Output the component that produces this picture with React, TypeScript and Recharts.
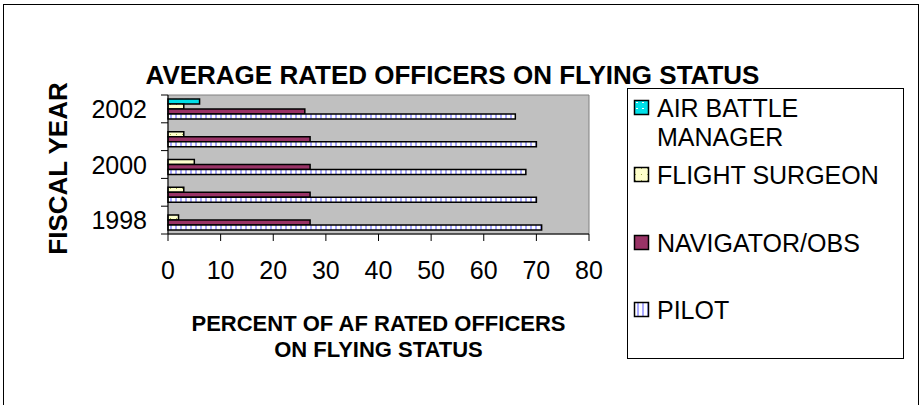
import React from "react";
import {
  BarChart,
  Bar,
  XAxis,
  YAxis,
  Legend,
  ReferenceArea,
  Label,
} from "recharts";

const years = ["1998", "1999", "2000", "2001", "2002"];
const pilot = [71, 70, 68, 70, 66];
const navigator = [27, 27, 27, 27, 26];
const flightSurgeon = [2, 3, 5, 3, 3];
const airBattleManager = [null, null, null, null, 6];
const xTicks = [0, 10, 20, 30, 40, 50, 60, 70, 80];

const data = years.map((year, i) => ({
  year,
  pilot: pilot[i],
  navigator: navigator[i],
  flightSurgeon: flightSurgeon[i],
  airBattleManager: airBattleManager[i],
}));

const FONT = "Arial, 'Liberation Sans', sans-serif";

const series = [
  { key: "airBattleManager", name: "AIR BATTLE MANAGER", fill: "url(#abmFill)" },
  { key: "flightSurgeon", name: "FLIGHT SURGEON", fill: "url(#fsFill)" },
  { key: "navigator", name: "NAVIGATOR/OBS", fill: "#993366" },
  { key: "pilot", name: "PILOT", fill: "url(#pilotFill)" },
];

const Patterns = () => (
  <svg width={0} height={0} style={{ position: "absolute" }}>
    <defs>
      <pattern id="pilotFill" patternUnits="userSpaceOnUse" width={5} height={5}>
        <rect width={5} height={5} fill="#ffffff" />
        <rect width={2} height={5} fill="#a8a8ff" />
      </pattern>
      <pattern id="fsFill" patternUnits="userSpaceOnUse" width={6} height={6}>
        <rect width={6} height={6} fill="#ffffcc" />
        <rect x={2} y={2} width={1} height={1} fill="#99aa44" />
      </pattern>
      <pattern id="abmFill" patternUnits="userSpaceOnUse" width={6} height={6}>
        <rect width={6} height={6} fill="#00e0e8" />
        <rect x={3} y={2} width={2} height={1} fill="#ffffff" />
      </pattern>
    </defs>
  </svg>
);

const YearTick = (props: any) => {
  const { x, y, payload, index } = props;
  const half = payload && payload.offset ? payload.offset : 13.9;
  const ax = x + 13;
  return (
    <g>
      <line x1={ax - 7} x2={ax} y1={y - half} y2={y - half} stroke="#000" />
      {index === 0 && (
        <line x1={ax - 7} x2={ax} y1={y + half} y2={y + half} stroke="#000" />
      )}
      {index % 2 === 0 && (
        <text
          x={x - 8}
          y={y}
          textAnchor="end"
          dominantBaseline="central"
          fontSize={25}
          fontFamily={FONT}
          fill="#000"
        >
          {payload.value}
        </text>
      )}
    </g>
  );
};

const LegendBox = () => {
  const rows = [
    { s: series[0], lines: ["AIR BATTLE", "MANAGER"], y: 20 },
    { s: series[1], lines: ["FLIGHT SURGEON"], y: 87 },
    { s: series[2], lines: ["NAVIGATOR/OBS"], y: 155 },
    { s: series[3], lines: ["PILOT"], y: 222 },
  ];
  return (
    <svg width={277} height={271}>
      <rect x={0.5} y={0.5} width={276} height={270} fill="#fff" stroke="#000" />
      {rows.map((r) => (
        <g key={r.s.key}>
          <rect
            x={7.5}
            y={r.y - 7.5}
            width={14}
            height={14}
            fill={r.s.fill}
            stroke="#000"
            strokeWidth={1.5}
          />
          {r.lines.map((l, i) => (
            <text
              key={l}
              x={30}
              y={r.y + i * 29}
              dominantBaseline="central"
              fontSize={25}
              fontFamily={FONT}
              fill="#000"
            >
              {l}
            </text>
          ))}
        </g>
      ))}
    </svg>
  );
};

export default function App() {
  return (
    <div
      style={{
        position: "absolute",
        left: 0,
        top: 0,
        width: 919,
        height: 405,
        background: "#fff",
        overflow: "hidden",
      }}
    >
      <Patterns />
      <div
        style={{
          position: "absolute",
          left: 3,
          top: 4,
          width: 914,
          height: 420,
          border: "1px solid #000",
        }}
      />
      <div
        style={{
          position: "absolute",
          left: 0,
          top: 59,
          width: 905,
          textAlign: "center",
          fontFamily: FONT,
          fontWeight: "bold",
          fontSize: 26,
          lineHeight: "32px",
        }}
      >
        AVERAGE RATED OFFICERS ON FLYING STATUS
      </div>
      <div style={{ position: "absolute", left: 0, top: 0 }}>
        <BarChart
          layout="vertical"
          width={919}
          height={405}
          data={data}
          margin={{ top: 95, right: 330, bottom: 121, left: 88 }}
          barCategoryGap="14%"
          barGap={0}
        >
          <ReferenceArea x1={0} x2={80} fill="#c0c0c0" fillOpacity={1} stroke="#808080" />
          <XAxis
            type="number"
            domain={[0, 80]}
            ticks={xTicks}
            tickSize={7}
            tickMargin={20}
            height={50}
            axisLine={{ stroke: "#000" }}
            tickLine={{ stroke: "#000" }}
            tick={{ fontSize: 25, fontFamily: FONT, fill: "#000" }}
          >
            <Label
              content={(p: any) => {
                const vb = p.viewBox;
                const cx = vb.x + vb.width / 2;
                return (
                  <text
                    x={cx}
                    y={vb.y + 97}
                    textAnchor="middle"
                    fontSize={22}
                    fontWeight="bold"
                    fontFamily={FONT}
                    fill="#000"
                  >
                    <tspan x={cx}>PERCENT OF AF RATED OFFICERS</tspan>
                    <tspan x={cx} dy={26}>ON FLYING STATUS</tspan>
                  </text>
                );
              }}
            />
          </XAxis>
          <YAxis
            type="category"
            dataKey="year"
            reversed
            width={80}
            interval={0}
            tickLine={false}
            tickSize={7}
            tickMargin={6}
            axisLine={{ stroke: "#000" }}
            tick={<YearTick />}
          >
            <Label
              content={(p: any) => {
                const vb = p.viewBox;
                const cy = vb.y + vb.height / 2 + 4;
                return (
                  <text
                    x={58}
                    y={cy}
                    transform={`rotate(-90 58 ${cy})`}
                    textAnchor="middle"
                    dominantBaseline="central"
                    fontSize={26}
                    fontWeight="bold"
                    fontFamily={FONT}
                    fill="#000"
                  >
                    FISCAL YEAR
                  </text>
                );
              }}
            />
          </YAxis>
          <Legend
            layout="vertical"
            align="center"
            verticalAlign="middle"
            content={() => <LegendBox />}
            wrapperStyle={{ left: 627, top: 88, width: 277, height: 271 }}
          />
          {series.map((s) => (
            <Bar
              key={s.key}
              dataKey={s.key}
              name={s.name}
              fill={s.fill}
              stroke="#000"
              strokeWidth={1.5}
              isAnimationActive={false}
            />
          ))}
        </BarChart>
      </div>
    </div>
  );
}
